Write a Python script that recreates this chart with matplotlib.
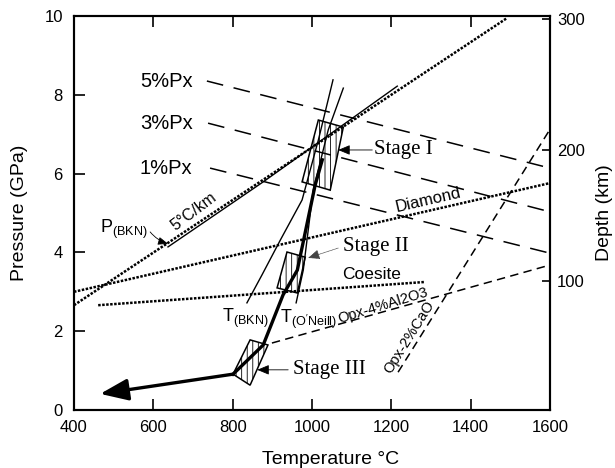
import matplotlib
matplotlib.use("Agg")
import matplotlib.pyplot as plt
from matplotlib.patches import Polygon

plt.rcParams['font.family'] = 'Liberation Sans'
plt.rcParams['mathtext.fontset'] = 'custom'
plt.rcParams['mathtext.rm'] = 'Liberation Sans'
plt.rcParams['hatch.linewidth'] = 0.6

# --- data (T in degC, P in GPa) ---
# Px isopleths
px5_t = [735, 1600]; px5_p = [8.35, 6.14]
px3_t = [738, 1600]; px3_p = [7.28, 5.03]
px1_t = [743, 1600]; px1_p = [6.14, 3.98]
# 5 C/km geotherm, diamond / coesite boundaries
geo_t = [400, 1492]; geo_p = [2.66, 9.95]
dia_t = [400, 1600]; dia_p = [3.00, 5.76]
coe_t = [461, 1285]; coe_p = [2.66, 3.25]
# Opx isopleths
al_t = [899, 1600]; al_p = [1.70, 3.68]
ca_t = [1217, 1596]; ca_p = [0.96, 7.06]
# thermobarometer curves
pbkn_t = [637, 877, 1215]; pbkn_p = [4.14, 5.79, 8.22]
tbkn_t = [836, 874, 920, 975, 1016, 1053]
tbkn_p = [2.72, 3.43, 4.31, 5.33, 6.85, 8.38]
tonl_t = [960, 978, 1003, 1041, 1079]
tonl_p = [2.72, 3.55, 5.58, 7.11, 8.17]
# P-T path
path_t = [1026, 1008, 963, 927, 877, 801]
path_p = [6.35, 5.71, 3.55, 2.92, 1.65, 0.91]
path_end_t = 466; path_end_p = 0.41
# stage boxes
stage1_t = [975, 1016, 1079, 1046]; stage1_p = [5.79, 7.36, 7.18, 5.58]
stage2_t = [912, 937, 983, 963]; stage2_p = [3.10, 4.01, 3.88, 2.97]
stage3_t = [801, 844, 889, 844]; stage3_p = [0.91, 1.78, 1.65, 0.63]

xticks = [400, 600, 800, 1000, 1200, 1400, 1600]
yticks = [0, 2, 4, 6, 8, 10]
depth_ticks = [100, 200, 300]

fig = plt.figure(figsize=(6.15, 4.68), dpi=100)
ax = fig.add_axes([0.1203, 0.1239, 0.7740, 0.8419])

long_dash = dict(color='black', lw=1.1, linestyle=(0, (11, 7)))
short_dash = dict(color='black', lw=1.1, linestyle=(0, (5.5, 3.5)))
dotted = dict(color='black', lw=1.8, linestyle=(0, (1, 0.6)))

ax.plot(px5_t, px5_p, **long_dash)
ax.plot(px3_t, px3_p, **long_dash)
ax.plot(px1_t, px1_p, **long_dash)
ax.plot(geo_t, geo_p, **dotted)
ax.plot(dia_t, dia_p, **dotted)
ax.plot(coe_t, coe_p, **dotted)
ax.plot(al_t, al_p, **short_dash)
ax.plot(ca_t, ca_p, **short_dash)

ax.plot(pbkn_t, pbkn_p, color='black', lw=1.0)
ax.plot(tbkn_t, tbkn_p, color='black', lw=1.0)
ax.plot(tonl_t, tonl_p, color='black', lw=1.0)

ax.plot(path_t, path_p, color='black', lw=2.4, solid_joinstyle='miter')
ax.annotate('', xy=(path_end_t, path_end_p), xytext=(path_t[-1], path_p[-1]),
            arrowprops=dict(arrowstyle='-|>,head_length=0.85,head_width=0.33',
                            mutation_scale=20, lw=2.4, color='black',
                            shrinkA=0, shrinkB=0))

for bt, bp in [(stage1_t, stage1_p), (stage2_t, stage2_p), (stage3_t, stage3_p)]:
    ax.add_patch(Polygon(list(zip(bt, bp)), closed=True, fill=False,
                         edgecolor='black', lw=1.1, hatch='|||'))

# labels
ax.text(566, 8.35, '5%Px', fontsize=14.5, va='center')
ax.text(566, 7.28, '3%Px', fontsize=14.5, va='center')
ax.text(566, 6.14, '1%Px', fontsize=14.5, va='center')
ax.text(703, 5.03, '5°C/km', fontsize=11.5, rotation=37, ha='center', va='center',
        rotation_mode='anchor')
ax.text(466, 4.49, r'P$_{\mathrm{(BKN)}}$', fontsize=13, va='baseline')
ax.annotate('', xy=(637, 4.22), xytext=(592, 4.52),
            arrowprops=dict(arrowstyle='-|>,head_length=0.5,head_width=0.2',
                            mutation_scale=12, lw=0.6, color='black',
                            connectionstyle='arc3,rad=0.15', shrinkA=0, shrinkB=0))
ax.text(1293, 5.33, 'Diamond', fontsize=12, rotation=13, ha='center', va='center',
        rotation_mode='anchor')
ax.text(1149, 3.45, 'Coesite', fontsize=12.5, ha='center', va='center')
ax.text(1180, 2.66, 'Opx-4%Al2O3', fontsize=10.5, rotation=17, ha='center', va='center',
        rotation_mode='anchor')
ax.text(1245, 1.85, 'Opx-2%CaO', fontsize=10.5, rotation=58, ha='center', va='center',
        rotation_mode='anchor')
ax.text(773, 2.23, r'T$_{\mathrm{(BKN)}}$', fontsize=13, va='baseline')
ax.text(920, 2.21, r"T$_{\mathrm{(O'Neill)}}$", fontsize=13, va='baseline')

serif = 'Liberation Serif'
ax.text(1157, 6.6, 'Stage I', fontsize=15, family=serif, va='center')
ax.annotate('', xy=(1066, 6.6), xytext=(1152, 6.6),
            arrowprops=dict(arrowstyle='-|>,head_length=0.6,head_width=0.25',
                            mutation_scale=12, lw=0.6, color='black',
                            shrinkA=0, shrinkB=0))
ax.text(1079, 4.14, 'Stage II', fontsize=15, family=serif, va='center')
ax.annotate('', xy=(990, 3.86), xytext=(1066, 4.11),
            arrowprops=dict(arrowstyle='-|>,head_length=0.6,head_width=0.25',
                            mutation_scale=12, lw=0.5, color='#444444',
                            linestyle=(0, (1, 1)), shrinkA=0, shrinkB=0))
ax.text(952, 1.02, 'Stage III', fontsize=15, family=serif, va='center')
ax.annotate('', xy=(862, 1.02), xytext=(940, 1.02),
            arrowprops=dict(arrowstyle='-|>,head_length=0.6,head_width=0.25',
                            mutation_scale=12, lw=0.6, color='black',
                            shrinkA=0, shrinkB=0))

ax.set_xlim(400, 1600)
ax.set_ylim(0, 10)
ax.set_xticks(xticks)
ax.set_yticks(yticks)
ax.tick_params(axis='both', direction='in', length=8, width=1.2, labelsize=12,
               top=True, right=False)
ax.tick_params(axis='x', pad=7)
ax.tick_params(axis='y', pad=8)
for s in ax.spines.values():
    s.set_linewidth(1.5)

ax.set_xlabel('Temperature °C', fontsize=14)
ax.set_ylabel('Pressure (GPa)', fontsize=14)
ax.xaxis.set_label_coords(0.538, -0.105)
ax.yaxis.set_label_coords(-0.097, 0.5)

ax2 = ax.twinx()
ax2.set_ylim(2, 302)
ax2.set_yticks(depth_ticks)
ax2.tick_params(direction='in', length=6, width=1.2, labelsize=12, pad=5)
ax2.set_ylabel('Depth (km)', fontsize=14)
ax2.yaxis.set_label_coords(1.097, 0.5)
for s in ax2.spines.values():
    s.set_linewidth(1.5)

fig.savefig('out.png', dpi=100)
